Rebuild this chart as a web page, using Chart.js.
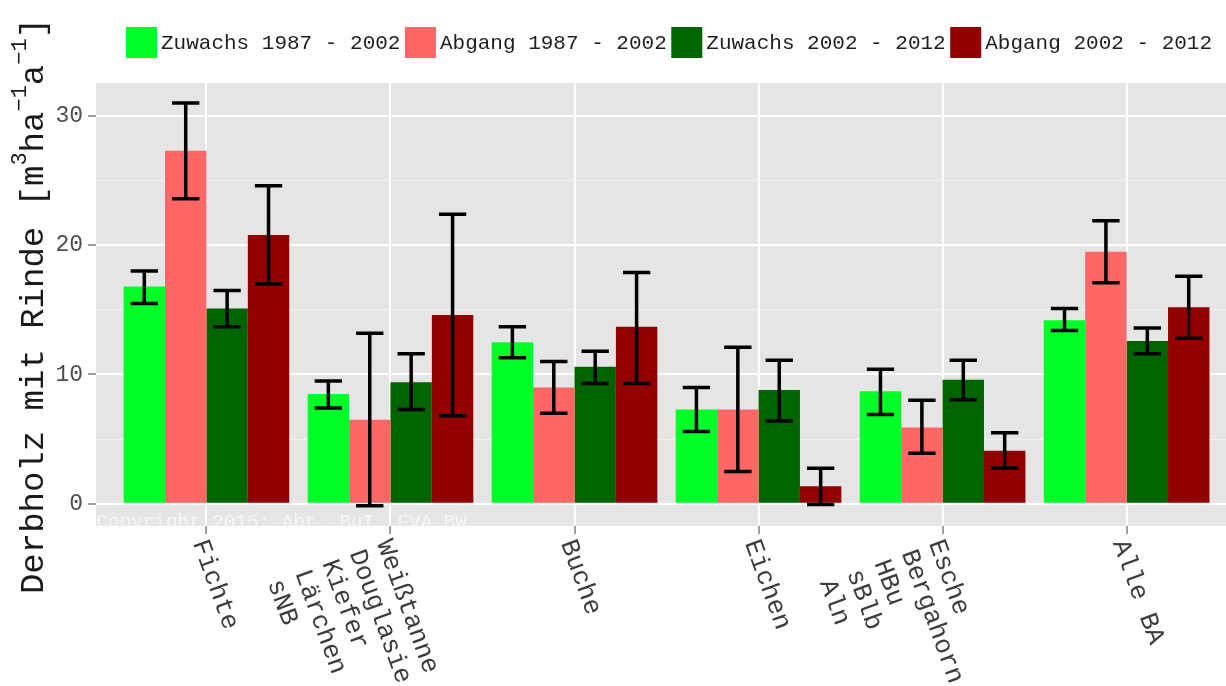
<!DOCTYPE html>
<html>
<head>
<meta charset="utf-8">
<title>Derbholz Zuwachs und Abgang</title>
<script src="https://cdn.jsdelivr.net/npm/chart.js@4.4.1/dist/chart.umd.min.js"></script>
<style>
    body { margin: 0; background: #ffffff; }
    #wrap { width: 1226px; height: 686px; }
</style>
</head>
<body>
<div id="wrap"><canvas id="chart" width="1226" height="686"></canvas></div>
<script>
// Baumartengruppen (x-Achse)
const categories = [
    ['Fichte'],
    ['Weißtanne', 'Douglasie', 'Kiefer', 'Lärchen', 'sNB'],
    ['Buche'],
    ['Eichen'],
    ['Esche', 'Bergahorn', 'HBu', 'sBlb', 'Aln'],
    ['Alle BA']
];
const seriesNames = ['Zuwachs 1987 - 2002', 'Abgang 1987 - 2002', 'Zuwachs 2002 - 2012', 'Abgang 2002 - 2012'];
const seriesColors = ['#00FF26', '#FF6666', '#006400', '#930000'];

// Werte in m3/ha/a
const zuwachs8702 = [16.8, 8.5, 12.5, 7.3, 8.7, 14.2];
const abgang8702 = [27.3, 6.5, 9.0, 7.3, 5.9, 19.5];
const zuwachs0212 = [15.1, 9.4, 10.6, 8.8, 9.6, 12.6];
const abgang0212 = [20.8, 14.6, 13.7, 1.35, 4.1, 15.2];

// Fehlerbalken (untere / obere Grenze)
const zuwachs8702Lo = [15.5, 7.4, 11.3, 5.6, 6.9, 13.4];
const zuwachs8702Hi = [18.0, 9.5, 13.7, 9.0, 10.4, 15.1];
const abgang8702Lo = [23.6, -0.15, 7.0, 2.5, 3.9, 17.1];
const abgang8702Hi = [31.0, 13.2, 11.0, 12.1, 8.0, 21.9];
const zuwachs0212Lo = [13.7, 7.3, 9.3, 6.4, 8.05, 11.6];
const zuwachs0212Hi = [16.5, 11.6, 11.8, 11.1, 11.1, 13.6];
const abgang0212Lo = [17.0, 6.8, 9.3, -0.05, 2.75, 12.8];
const abgang0212Hi = [24.6, 22.4, 17.9, 2.75, 5.5, 17.6];

const yTicks = [0, 10, 20, 30];
const copyrightText = 'Copyright 2015: Abt. BuI, FVA BW';

const values = [zuwachs8702, abgang8702, zuwachs0212, abgang0212];
const lows = [zuwachs8702Lo, abgang8702Lo, zuwachs0212Lo, abgang0212Lo];
const highs = [zuwachs8702Hi, abgang8702Hi, zuwachs0212Hi, abgang0212Hi];

const mono = '"Liberation Mono", "DejaVu Sans Mono", monospace';

// grauer Panel-Hintergrund wie bei ggplot
const panelBackground = {
    id: 'panelBackground',
    beforeDraw(chart) {
        const { ctx, chartArea } = chart;
        ctx.save();
        ctx.fillStyle = '#E5E5E5';
        ctx.fillRect(chartArea.left, chartArea.top, chartArea.right - chartArea.left, chartArea.bottom - chartArea.top);
        ctx.restore();
    }
};

// Fehlerbalken, Copyright, Legende, Achsentitel und gedrehte x-Beschriftung
const extras = {
    id: 'extras',
    afterDatasetsDraw(chart) {
        const { ctx, chartArea } = chart;
        const yScale = chart.scales.y;

        ctx.save();
        ctx.strokeStyle = '#000000';
        ctx.lineWidth = 3.5;
        ctx.lineCap = 'butt';
        values.forEach((v, d) => {
            const meta = chart.getDatasetMeta(d);
            meta.data.forEach((bar, i) => {
                const yLo = yScale.getPixelForValue(lows[d][i]);
                const yHi = yScale.getPixelForValue(highs[d][i]);
                const half = bar.width * 0.66 / 2;
                ctx.beginPath();
                ctx.moveTo(bar.x, yLo);
                ctx.lineTo(bar.x, yHi);
                ctx.moveTo(bar.x - half, yLo);
                ctx.lineTo(bar.x + half, yLo);
                ctx.moveTo(bar.x - half, yHi);
                ctx.lineTo(bar.x + half, yHi);
                ctx.stroke();
            });
        });
        ctx.restore();

        // Copyright im Panel
        ctx.save();
        ctx.beginPath();
        ctx.rect(chartArea.left, chartArea.top, chartArea.right - chartArea.left, chartArea.bottom - chartArea.top);
        ctx.clip();
        ctx.font = '19.3px ' + mono;
        ctx.fillStyle = '#F5F5F5';
        ctx.textAlign = 'left';
        ctx.textBaseline = 'alphabetic';
        ctx.fillText(copyrightText, chartArea.left + 0.5, chartArea.bottom + 1.5);
        ctx.restore();
    },
    afterDraw(chart) {
        const { ctx, chartArea } = chart;
        const xScale = chart.scales.x;

        // x-Beschriftung, 70 Grad im Uhrzeigersinn
        ctx.save();
        ctx.font = '26px ' + mono;
        ctx.fillStyle = '#3C3C3C';
        ctx.textAlign = 'left';
        ctx.textBaseline = 'alphabetic';
        categories.forEach((lines, i) => {
            const x = xScale.getPixelForValue(i + 1);
            ctx.save();
            ctx.translate(x, chartArea.bottom + 11);
            ctx.rotate(70 * Math.PI / 180);
            lines.forEach((line, k) => {
                ctx.fillText(line, 1, 15 + k * 29);
            });
            ctx.restore();
        });
        ctx.restore();

        // Legende oben
        ctx.save();
        ctx.font = '21px ' + mono;
        ctx.textAlign = 'left';
        ctx.textBaseline = 'middle';
        let lx = 126;
        seriesNames.forEach((name, d) => {
            ctx.fillStyle = seriesColors[d];
            ctx.fillRect(lx, 27, 31, 31);
            ctx.fillStyle = '#1E1E1E';
            ctx.fillText(name, lx + 35, 43);
            lx += 35 + ctx.measureText(name).width + 4.5;
        });
        ctx.restore();

        // y-Achsentitel mit Hochzahlen
        const parts = [
            ['Derbholz mit Rinde [m', false],
            ['3', true],
            ['ha', false],
            ['\u22121', true],
            ['a', false],
            ['\u22121', true],
            [']', false]
        ];
        ctx.save();
        ctx.fillStyle = '#1A1A1A';
        ctx.textBaseline = 'alphabetic';
        ctx.textAlign = 'left';
        let total = 0;
        parts.forEach(p => {
            ctx.font = (p[1] ? '22px ' : '34px ') + mono;
            total += ctx.measureText(p[0]).width;
        });
        ctx.translate(43, 306);
        ctx.rotate(-Math.PI / 2);
        let tx = -total / 2;
        parts.forEach(p => {
            ctx.font = (p[1] ? '22px ' : '34px ') + mono;
            ctx.fillText(p[0], tx, p[1] ? -17 : 0);
            tx += ctx.measureText(p[0]).width;
        });
        ctx.restore();
    }
};

const datasets = seriesNames.map((name, d) => ({
    label: name,
    data: values[d].map((v, i) => ({ x: i + 1, y: v })),
    backgroundColor: seriesColors[d],
    borderWidth: 0,
    categoryPercentage: 0.9,
    barPercentage: 1.0
}));

new Chart(document.getElementById('chart'), {
    type: 'bar',
    data: { datasets: datasets },
    plugins: [panelBackground, extras],
    options: {
        responsive: false,
        animation: false,
        events: [],
        layout: { padding: { top: 83, left: 0, right: 0, bottom: 0 } },
        plugins: {
            legend: { display: false },
            tooltip: { enabled: false }
        },
        scales: {
            x: {
                type: 'linear',
                offset: false,
                min: 0.4,
                max: 6.54,
                afterFit: axis => { axis.height = 160; },
                border: { display: false },
                ticks: { stepSize: 1, includeBounds: false, display: false },
                grid: {
                    offset: false,
                    color: '#FFFFFF',
                    lineWidth: 2,
                    drawTicks: true,
                    tickLength: 8,
                    tickColor: '#7F7F7F',
                    tickWidth: 1.5
                }
            },
            y: {
                min: -1.72,
                max: 32.55,
                afterFit: axis => { axis.width = 96; },
                border: { display: false },
                ticks: {
                    stepSize: 5,
                    includeBounds: false,
                    padding: 5,
                    color: '#4D4D4D',
                    font: { family: mono, size: 23 },
                    callback: v => (yTicks.includes(v) ? String(v) : '')
                },
                grid: {
                    color: ctx => (ctx.tick && ctx.tick.value % 10 === 0 ? '#FFFFFF' : '#F2F2F2'),
                    lineWidth: ctx => (ctx.tick && ctx.tick.value % 10 === 0 ? 2 : 1.2),
                    drawTicks: true,
                    tickLength: 8,
                    tickColor: ctx => (ctx.tick && ctx.tick.value % 10 === 0 ? '#7F7F7F' : 'rgba(0,0,0,0)'),
                    tickWidth: 1.5
                }
            }
        }
    }
});
</script>
</body>
</html>
